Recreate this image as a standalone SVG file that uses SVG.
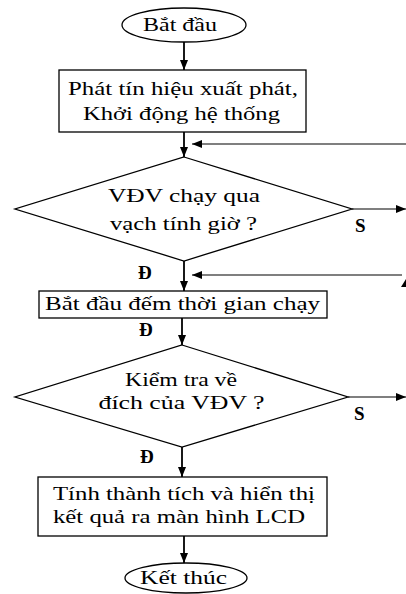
<svg xmlns="http://www.w3.org/2000/svg" width="406" height="594" viewBox="0 0 406 594">
<defs>
<marker id="ah" markerWidth="10" markerHeight="8" refX="10" refY="4" orient="auto" markerUnits="userSpaceOnUse">
<path d="M0,0 L10,4 L0,8 Z" fill="#000"/>
</marker>
</defs>
<style>
.shape{fill:#fff;stroke:#000;stroke-width:1.3}
.t{font-family:"Liberation Serif","Times New Roman",serif;font-size:18px;fill:#000;text-anchor:middle}
.lb{font-family:"Liberation Serif","Times New Roman",serif;font-size:19px;font-weight:bold;fill:#000}
.c{stroke:#000;stroke-width:1.8;fill:none}
.f{stroke:#000;stroke-width:1.2;fill:none}
</style>
<rect width="406" height="594" fill="#fff"/>
<g id="connectors">
<line class="c" x1="184" y1="42" x2="184" y2="70" marker-end="url(#ah)"/>
<line class="c" x1="184" y1="132" x2="184" y2="157" marker-end="url(#ah)"/>
<line class="f" x1="406" y1="144" x2="192" y2="144" marker-end="url(#ah)"/>
<line class="f" x1="352" y1="209" x2="406" y2="209" marker-end="url(#ah)"/>
<line class="c" x1="184" y1="261" x2="184" y2="291" marker-end="url(#ah)"/>
<line class="f" x1="402" y1="275" x2="192" y2="275" marker-end="url(#ah)"/>
<path d="M401,287 L406,279 L406,287 Z" fill="#000"/>
<line class="c" x1="182" y1="318" x2="182" y2="345" marker-end="url(#ah)"/>
<line class="f" x1="348" y1="397" x2="406" y2="397" marker-end="url(#ah)"/>
<line class="c" x1="182" y1="447" x2="182" y2="477" marker-end="url(#ah)"/>
<line class="c" x1="184" y1="536" x2="184" y2="563" marker-end="url(#ah)"/>
</g>
<g id="start">
<ellipse class="shape" cx="184" cy="25" rx="62" ry="17"/>
<text class="t" x="180" y="31" textLength="74" lengthAdjust="spacingAndGlyphs">Bắt đầu</text>
</g>
<g id="init">
<rect class="shape" x="59" y="70" width="247" height="62"/>
<text class="t" x="183" y="95" textLength="230" lengthAdjust="spacingAndGlyphs">Phát tín hiệu xuất phát,</text>
<text class="t" x="181.5" y="120" textLength="197" lengthAdjust="spacingAndGlyphs">Khởi động hệ thống</text>
</g>
<g id="check1">
<polygon class="shape" points="184,157 352,209 184,261 15,209"/>
<text class="t" x="184" y="202" textLength="152" lengthAdjust="spacingAndGlyphs">VĐV chạy qua</text>
<text class="t" x="183.5" y="230" textLength="147" lengthAdjust="spacingAndGlyphs">vạch tính giờ ?</text>
</g>
<g id="timer">
<rect class="shape" x="39" y="291" width="288" height="27"/>
<text class="t" x="182.5" y="310" textLength="275" lengthAdjust="spacingAndGlyphs">Bắt đầu đếm thời gian chạy</text>
</g>
<g id="check2">
<polygon class="shape" points="182,345 348,397 182,447 15,397"/>
<text class="t" x="181" y="386" textLength="112" lengthAdjust="spacingAndGlyphs">Kiểm tra về</text>
<text class="t" x="181.5" y="409" textLength="166" lengthAdjust="spacingAndGlyphs">đích của VĐV ?</text>
</g>
<g id="result">
<rect class="shape" x="38" y="477" width="289" height="59"/>
<text class="t" x="184" y="500" textLength="262" lengthAdjust="spacingAndGlyphs">Tính thành tích và hiển thị</text>
<text class="t" x="179" y="523" textLength="252" lengthAdjust="spacingAndGlyphs">kết quả ra màn hình LCD</text>
</g>
<g id="end">
<ellipse class="shape" cx="186" cy="578" rx="61" ry="15"/>
<text class="t" x="183.5" y="584" textLength="87" lengthAdjust="spacingAndGlyphs">Kết thúc</text>
</g>
<g id="labels">
<text class="lb" x="355" y="232" font-size="19">S</text>
<text class="lb" x="354" y="420" font-size="19">S</text>
<text class="lb" x="138" y="279" font-size="19">Đ</text>
<text class="lb" x="139" y="336" font-size="19">Đ</text>
<text class="lb" x="140" y="463" font-size="19">Đ</text>
</g>
</svg>
